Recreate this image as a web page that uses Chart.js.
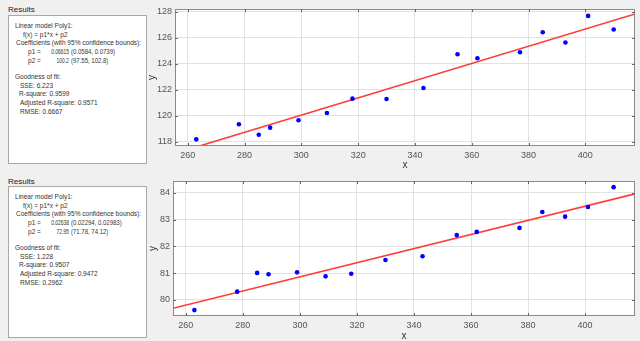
<!DOCTYPE html>
<html>
<head>
<meta charset="utf-8">
<script src="https://cdn.jsdelivr.net/npm/chart.js@4.4.1/dist/chart.umd.min.js"></script>
<style>
  html, body { margin: 0; padding: 0; }
  body { width: 640px; height: 341px; background: #f0f0f0; position: relative; overflow: hidden;
         font-family: "Liberation Sans", Arial, sans-serif; }
  .label { position: absolute; left: 8px; font-size: 8px; color: #222; }
  .box { position: absolute; left: 8px; width: 137px; background: #fff; border: 1px solid #a8a8a8; }
  .line { position: absolute; font-size: 7.5px; color: #333; white-space: pre; line-height: 8px;
          transform: scaleX(0.87); transform-origin: 0 50%; }
  .line.value { transform: scaleX(0.66); transform-origin: 100% 50%; }
  .line.bounds { transform: scaleX(0.8); }
  canvas { position: absolute; left: 140px; }
</style>
</head>
<body>
<div class="label" style="top:5px">Results</div>
<div class="box" id="box1" style="top:15px;height:147px"></div>
<div class="label" style="top:177px">Results</div>
<div class="box" id="box2" style="top:186px;height:150px"></div>
<canvas id="chartTop" width="500" height="170" style="top:0"></canvas>
<canvas id="chartBottom" width="500" height="171" style="top:170px"></canvas>
<script>
// data
const xValues = [263, 278, 285, 289, 299, 309, 318, 330, 343, 355, 362, 377, 385, 393, 401, 410];
const topY = [118.18, 119.34, 118.54, 119.08, 119.65, 120.21, 121.31, 121.28, 122.13, 124.72, 124.41, 124.88, 126.41, 125.62, 127.67, 126.62];
const bottomY = [79.62, 80.31, 81.01, 80.96, 81.03, 80.88, 80.98, 81.49, 81.63, 82.42, 82.54, 82.69, 83.28, 83.11, 83.47, 84.21];

// fitted line end points (at the axis limits)
const fitX = [255.5, 417.5];
const topFitY = [117.10, 127.82];
const bottomFitY = [79.69, 83.96];

// axis limits
const xRange = [255.5, 417.5];
const topYRange = [117.67, 128.2];
const bottomYRange = [79.4, 84.44];

// results panels text
const topCoef = ["0.06615", "(0.0584, 0.0739)", "100.2", "(97.55, 102.8)"];
const topFit = ["6.223", "0.9599", "0.9571", "0.6667"];
const bottomCoef = ["0.02638", "(0.02294, 0.02983)", "72.95", "(71.78, 74.12)"];
const bottomFit = ["1.228", "0.9507", "0.9472", "0.2962"];

function fillBox(id, coef, fit) {
  const box = document.getElementById(id);
  const rows = [
    ["", 6, 10, "Linear model Poly1:"],
    ["", 14, 18.5, "f(x) = p1*x + p2"],
    ["", 7, 27, "Coefficients (with 95% confidence bounds):"],
    ["", 19, 36, "p1 ="], ["value", 60, 36, coef[0]], ["bounds", 62, 36, coef[1]],
    ["", 19, 44.5, "p2 ="], ["value", 60, 44.5, coef[2]], ["bounds", 62, 44.5, coef[3]],
    ["", 6, 61, "Goodness of fit:"],
    ["", 11, 69.5, "SSE: " + fit[0]],
    ["", 10, 78, "R-square: " + fit[1]],
    ["", 11, 87, "Adjusted R-square: " + fit[2]],
    ["", 10.5, 96, "RMSE: " + fit[3]]
  ];
  rows.forEach(([cls, x, y, t]) => {
    const d = document.createElement("div");
    d.className = "line " + cls;
    if (cls === "value") d.style.right = (137 - x) + "px";
    else d.style.left = x + "px";
    d.style.top = (y - 4) + "px";
    d.textContent = t;
    box.appendChild(d);
  });
}
fillBox("box1", topCoef, topFit);
fillBox("box2", bottomCoef, bottomFit);

const boxPlugin = {
  id: "box",
  beforeDraw(chart) {
    const { ctx, chartArea: a } = chart;
    ctx.save();
    ctx.fillStyle = "#fff";
    ctx.fillRect(a.left, a.top, a.right - a.left, a.bottom - a.top);
    ctx.restore();
  },
  afterDraw(chart) {
    const { ctx, chartArea: a, scales: { x, y } } = chart;
    ctx.save();
    ctx.strokeStyle = "#8a8a8a";
    ctx.lineWidth = 1;
    ctx.strokeRect(a.left + 0.5, a.top + 0.5, a.right - a.left - 1, a.bottom - a.top - 1);
    ctx.strokeStyle = "#666";
    ctx.beginPath();
    x.ticks.forEach(t => {
      const px = Math.round(x.getPixelForValue(t.value)) + 0.5;
      ctx.moveTo(px, a.bottom); ctx.lineTo(px, a.bottom - 3);
      ctx.moveTo(px, a.top); ctx.lineTo(px, a.top + 3);
    });
    y.ticks.forEach(t => {
      const py = Math.round(y.getPixelForValue(t.value)) + 0.5;
      ctx.moveTo(a.left, py); ctx.lineTo(a.left + 3, py);
      ctx.moveTo(a.right, py); ctx.lineTo(a.right - 3, py);
    });
    ctx.stroke();
    ctx.restore();
  }
};

function makeChart(id, yValues, fitY, yRange, yStep, yWidth, xHeight, padTop, yTitlePad) {
  new Chart(document.getElementById(id), {
    type: "scatter",
    data: {
      datasets: [
        {
          data: xValues.map((x, i) => ({ x: x, y: yValues[i] })),
          backgroundColor: "#0000ff",
          borderColor: "#0000ff",
          pointRadius: 2.3,
          pointBorderWidth: 0,
        },
        {
          data: fitX.map((x, i) => ({ x: x, y: fitY[i] })),
          showLine: true,
          borderColor: "rgba(255,50,50,0.95)",
          borderWidth: 1.6,
          pointRadius: 0,
          clip: 0,
        },
      ],
    },
    options: {
      responsive: false,
      animation: false,
      devicePixelRatio: 1,
      layout: { padding: { top: padTop, right: 5, left: 0, bottom: 0 } },
      plugins: { legend: { display: false }, tooltip: { enabled: false } },
      scales: {
        x: {
          type: "linear",
          min: xRange[0],
          max: xRange[1],
          grid: { color: "#e2e2e2", drawTicks: false },
          border: { display: false },
          ticks: { stepSize: 20, includeBounds: false, padding: 4, color: "#555",
                   font: { size: 9, family: "Liberation Sans" } },
          title: { display: true, text: "x", color: "#333", padding: 0,
                   font: { size: 10, lineHeight: 1, family: "Liberation Sans" } },
          afterFit: (s) => { s.height = xHeight; },
        },
        y: {
          min: yRange[0],
          max: yRange[1],
          grid: { color: "#e2e2e2", drawTicks: false },
          border: { display: false },
          ticks: { stepSize: yStep, includeBounds: false, padding: 3, color: "#555",
                   font: { size: 9, family: "Liberation Sans" } },
          title: { display: true, text: "y", color: "#333", padding: { top: yTitlePad, bottom: 0 },
                   font: { size: 10, lineHeight: 1, family: "Liberation Sans" } },
          afterFit: (s) => { s.width = yWidth; },
        },
      },
    },
    plugins: [boxPlugin],
  });
}

makeChart("chartTop", topY, topFitY, topYRange, 2, 35, 24, 9, 7);
makeChart("chartBottom", bottomY, bottomFitY, bottomYRange, 1, 33, 25, 11, 8);
</script>
</body>
</html>
